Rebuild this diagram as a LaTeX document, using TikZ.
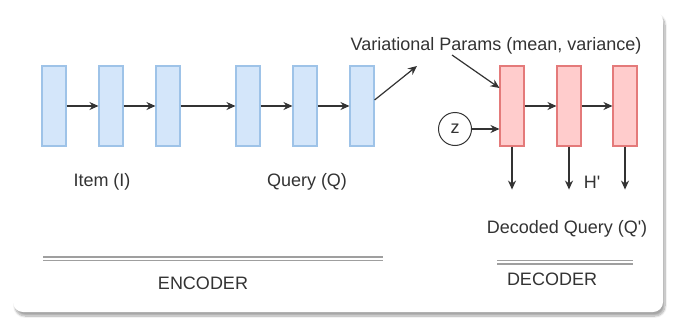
\documentclass[tikz,border=0pt]{standalone}
\usepackage{fontspec}
\setmainfont{Liberation Sans}
\usetikzlibrary{arrows.meta,shadows.blur}
\definecolor{encfill}{HTML}{D4E6FA}
\definecolor{encline}{HTML}{9EC3E8}
\definecolor{decfill}{HTML}{FFCCCC}
\definecolor{decline}{HTML}{E47A7A}
\definecolor{ink}{HTML}{333333}
\begin{document}
\begin{tikzpicture}[x=1pt,y=-1pt]
    \tikzset{
      encbox/.style={
        draw=encline, fill=encfill, line width=1.1pt,
        minimum width=24pt, minimum height=80pt, inner sep=0pt,
     },
      decbox/.style={
        encbox, draw=decline, fill=decfill,
     },
      lbl/.style={
        text=ink, inner sep=0pt,
        font=\fontsize{18}{20}\selectfont,
     },
      link/.style={
        draw=ink, line width=1.2pt, -{Stealth[length=9pt,width=8pt]},
     },
      rule/.style={
        draw=gray!75, line width=1.5pt, double=white, double distance=2pt,
     }
    }
    \useasboundingbox (0,0) rectangle (682,332);
    \fill[white, rounded corners=10pt,
      blur shadow={shadow xshift=2pt, shadow yshift=-4pt,
        shadow blur steps=10, shadow opacity=35}]
      (13,11) rectangle (663,312);
    %
    % encoder
    \node[encbox] (e1) at (54,106) {};
    \node[encbox] (e2) at (111,106) {};
    \node[encbox] (e3) at (168,106) {};
    \node[encbox] (e4) at (248,106) {};
    \node[encbox] (e5) at (305,106) {};
    \node[encbox] (e6) at (362,106) {};
    \foreach \a/\b in {e1/e2,e2/e3,e3/e4,e4/e5,e5/e6}
      \draw[link] (\a) -- (\b);
    \node[lbl] (item) at (102,182) {Item (I)};
    \node[lbl] (query) at (307,182) {Query (Q)};
    %
    % variational params
    \node[lbl] (params) at (496,46) {Variational Params (mean, variance)};
    \coordinate (vp) at (417,66);
    \coordinate (pstart) at (452,55);
    \draw[link] ([yshift=6pt]e6.east) -- (vp);
    %
    % decoder
    \node[decbox] (d1) at (512,106) {};
    \node[decbox] (d2) at (569,106) {};
    \node[decbox] (d3) at (625,106) {};
    \node[draw=ink, line width=1pt, circle, minimum size=33pt, inner sep=0pt,
      lbl] (z) at (455,129) {z};
    \draw[link] (pstart) -- ([yshift=18pt]d1.west);
    \draw[link] (z) -- (z -| d1.west);
    \draw[link] (d1) -- (d2);
    \draw[link] (d2) -- (d3);
    \foreach \i in {1,2,3} {
      \coordinate (o\i) at ([yshift=-43pt]d\i.south);
      \draw[link] (d\i) -- (o\i);
    }
    \node[lbl] (hout) at (592,182) {H\textquotesingle};
    \node[lbl] (decoded) at (567,229) {Decoded Query (Q\textquotesingle)};
    %
    % section rules
    \coordinate (encl) at (43,258.5);
    \coordinate (encr) at (383,258.5);
    \coordinate (decl) at (497,262);
    \coordinate (decr) at (633,262);
    \draw[rule] (encl) -- (encr);
    \draw[rule] (decl) -- (decr);
    \node[lbl] (enc) at (203,283) {ENCODER};
    \node[lbl] (dec) at (552,279) {DECODER};
\end{tikzpicture}
\end{document}
